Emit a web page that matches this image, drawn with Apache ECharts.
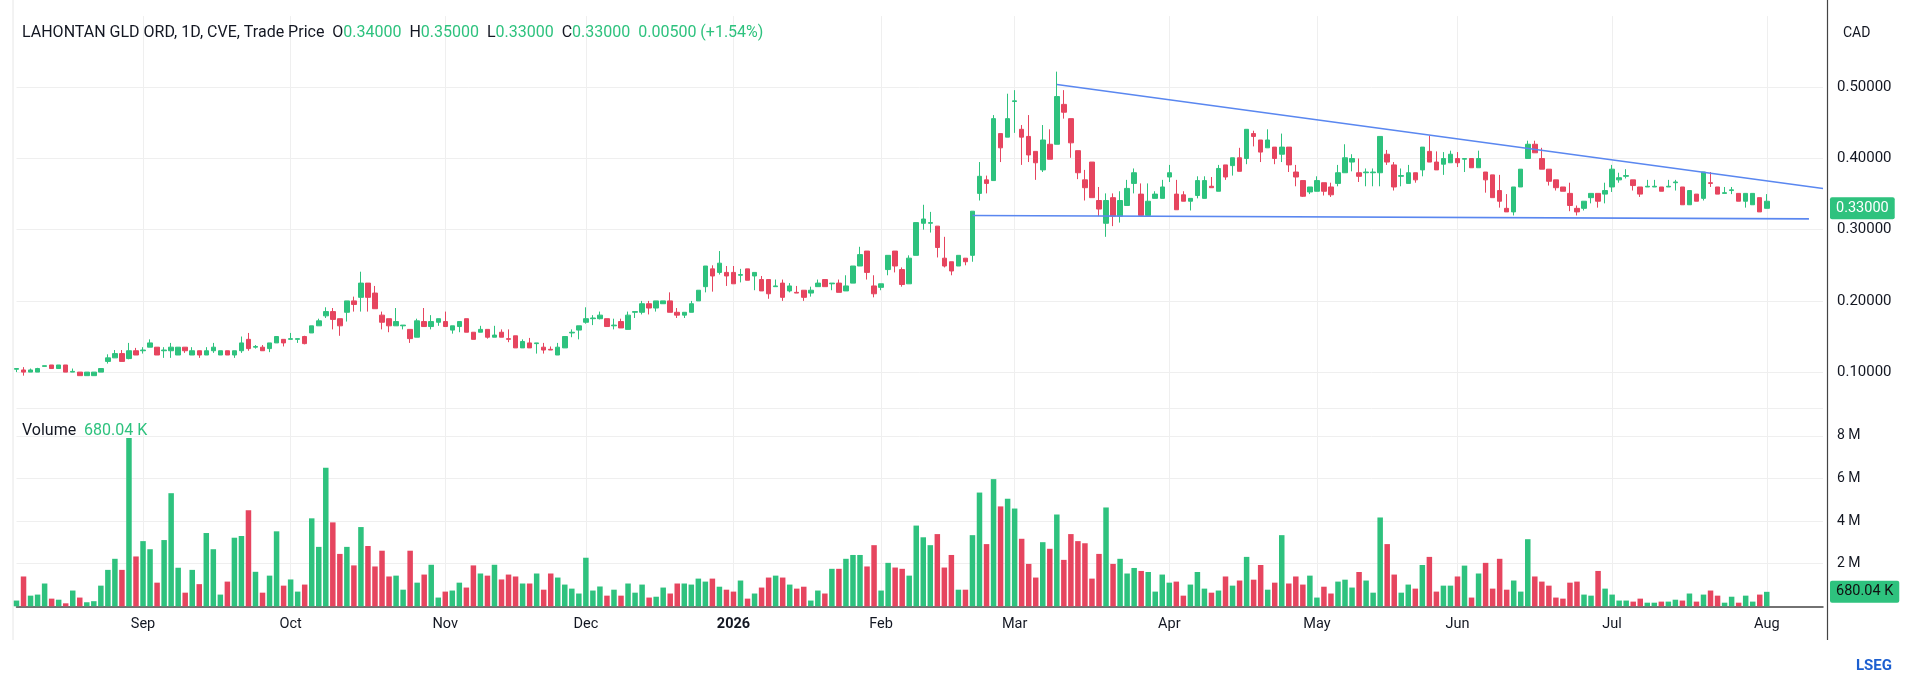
<!DOCTYPE html>
<html>
<head>
<meta charset="utf-8">
<title>LAHONTAN GLD ORD</title>
<script src="https://cdn.jsdelivr.net/npm/echarts@6/dist/echarts.min.js"></script>
<style>
  html, body { margin: 0; padding: 0; background: #fff; }
  #chart { width: 1920px; height: 681px; }
</style>
</head>
<body>
<div id="chart"></div>
<script>
'use strict';
// daily bars, oldest first (CAD)
const opens = [
  .104,.103,.100,.100,.108,.110,.105,.110,.100,.100,
  .095,.095,.100,.115,.120,.126,.119,.130,.130,.135,
  .135,.130,.130,.124,.135,.124,.130,.124,.130,.124,
  .130,.124,.130,.146,.135,.135,.133,.141,.146,.146,
  .146,.150,.155,.165,.179,.185,.175,.184,.200,.205,
  .225,.211,.180,.175,.165,.165,.160,.149,.171,.164,
  .170,.171,.159,.164,.175,.156,.156,.160,.149,.156,
  .147,.151,.134,.141,.140,.135,.132,.124,.134,.155,
  .159,.170,.175,.175,.175,.165,.171,.160,.184,.184,
  .196,.190,.196,.200,.184,.180,.184,.200,.220,.245,
  .240,.240,.240,.236,.245,.235,.230,.230,.220,.225,
  .214,.212,.215,.211,.220,.230,.224,.225,.214,.225,
  .249,.270,.221,.219,.244,.270,.244,.224,.264,.309,
  .309,.305,.260,.255,.249,.260,.264,.351,.370,.369,
  .435,.430,.480,.441,.431,.410,.384,.420,.420,.476,
  .456,.411,.370,.395,.341,.309,.345,.319,.334,.365,
  .350,.320,.344,.344,.374,.350,.349,.340,.348,.344,
  .361,.354,.391,.390,.401,.400,.435,.426,.415,.416,
  .406,.416,.381,.369,.353,.354,.366,.360,.365,.380,
  .395,.380,.380,.380,.380,.406,.391,.375,.365,.380,
  .384,.410,.395,.392,.394,.400,.399,.400,.387,.381,
  .377,.355,.330,.325,.360,.400,.420,.400,.385,.370,
  .360,.351,.330,.330,.345,.351,.350,.360,.370,.375,
  .370,.360,.360,.360,.360,.360,.366,.360,.335,.350,
  .344,.366,.360,.351,.355,.351,.340,.335,.345,.330
];
const highs = [
  .105,.107,.105,.106,.109,.110,.110,.110,.105,.100,
  .100,.100,.105,.125,.131,.131,.141,.134,.135,.146,
  .135,.135,.141,.135,.135,.135,.130,.135,.141,.130,
  .130,.130,.150,.155,.138,.138,.141,.150,.146,.155,
  .147,.151,.165,.175,.191,.190,.175,.200,.206,.241,
  .225,.221,.185,.175,.190,.166,.160,.175,.190,.180,
  .175,.185,.165,.171,.175,.156,.165,.160,.165,.160,
  .160,.151,.146,.148,.141,.141,.136,.141,.150,.160,
  .165,.191,.180,.185,.175,.175,.175,.185,.185,.200,
  .200,.200,.200,.212,.190,.184,.200,.215,.249,.250,
  .270,.249,.249,.245,.245,.240,.235,.230,.230,.230,
  .225,.221,.215,.220,.230,.230,.225,.230,.236,.249,
  .276,.270,.236,.224,.264,.270,.247,.264,.310,.335,
  .325,.305,.290,.255,.264,.260,.326,.395,.376,.461,
  .435,.491,.496,.447,.461,.410,.447,.441,.522,.496,
  .456,.411,.384,.395,.360,.351,.351,.354,.370,.386,
  .365,.365,.354,.370,.391,.370,.354,.344,.375,.375,
  .374,.391,.391,.401,.415,.441,.439,.426,.441,.416,
  .435,.416,.391,.369,.360,.375,.366,.366,.391,.420,
  .406,.400,.386,.386,.431,.412,.395,.386,.391,.380,
  .416,.432,.410,.409,.411,.409,.400,.400,.411,.381,
  .377,.377,.350,.360,.385,.425,.425,.415,.385,.370,
  .360,.366,.334,.340,.351,.351,.366,.391,.380,.385,
  .370,.360,.370,.370,.360,.370,.370,.360,.355,.350,
  .381,.381,.360,.360,.360,.351,.351,.351,.345,.350
];
const lows = [
  .100,.095,.100,.100,.108,.105,.105,.100,.100,.095,
  .095,.095,.100,.112,.120,.115,.118,.124,.126,.135,
  .124,.120,.120,.124,.127,.124,.120,.124,.127,.124,
  .124,.120,.127,.130,.133,.130,.128,.141,.136,.146,
  .141,.139,.155,.165,.176,.160,.151,.171,.185,.185,
  .185,.189,.160,.156,.165,.160,.141,.149,.164,.160,
  .165,.164,.154,.156,.156,.146,.156,.147,.149,.149,
  .142,.134,.134,.134,.126,.126,.131,.124,.134,.149,
  .146,.168,.166,.174,.164,.160,.162,.160,.176,.181,
  .181,.185,.196,.184,.176,.176,.184,.200,.212,.213,
  .237,.221,.224,.226,.229,.215,.214,.203,.220,.200,
  .212,.211,.200,.206,.220,.220,.215,.212,.214,.225,
  .249,.230,.205,.215,.236,.240,.220,.224,.264,.300,
  .296,.261,.247,.236,.249,.250,.255,.341,.351,.369,
  .395,.430,.436,.391,.395,.370,.381,.399,.420,.456,
  .401,.371,.341,.345,.319,.290,.305,.310,.334,.351,
  .320,.320,.344,.344,.367,.328,.340,.327,.344,.344,
  .359,.354,.370,.376,.382,.392,.417,.395,.415,.392,
  .395,.381,.361,.346,.350,.354,.348,.346,.361,.380,
  .382,.367,.361,.361,.361,.391,.355,.361,.365,.366,
  .375,.395,.384,.377,.394,.388,.381,.387,.387,.352,
  .345,.331,.325,.320,.360,.400,.408,.385,.362,.355,
  .354,.326,.320,.327,.337,.331,.337,.353,.366,.372,
  .355,.346,.360,.360,.354,.360,.355,.335,.335,.340,
  .341,.360,.350,.351,.350,.340,.331,.335,.325,.330
];
const closes = [
  .105,.100,.103,.105,.109,.105,.110,.100,.101,.095,
  .100,.100,.105,.120,.126,.115,.130,.124,.131,.141,
  .124,.131,.135,.135,.130,.130,.124,.130,.135,.130,
  .124,.130,.141,.133,.136,.130,.141,.150,.141,.147,
  .147,.140,.165,.172,.185,.174,.165,.200,.195,.225,
  .205,.189,.170,.165,.171,.166,.147,.172,.164,.171,
  .175,.164,.165,.171,.156,.146,.160,.149,.152,.149,
  .146,.134,.143,.134,.141,.131,.131,.135,.150,.156,
  .165,.175,.176,.180,.164,.166,.162,.180,.185,.196,
  .190,.200,.200,.184,.180,.184,.196,.215,.249,.235,
  .253,.235,.224,.237,.229,.240,.214,.210,.221,.205,
  .221,.211,.205,.215,.225,.220,.225,.212,.221,.249,
  .265,.240,.210,.224,.264,.249,.223,.260,.310,.315,
  .310,.275,.249,.242,.264,.255,.326,.375,.365,.456,
  .415,.456,.481,.430,.405,.394,.426,.399,.487,.465,
  .422,.380,.359,.345,.329,.341,.319,.341,.358,.380,
  .320,.340,.350,.360,.380,.328,.340,.344,.369,.369,
  .359,.386,.374,.401,.382,.441,.431,.409,.426,.400,
  .416,.391,.374,.347,.360,.369,.354,.349,.380,.401,
  .400,.375,.381,.381,.431,.395,.360,.376,.380,.370,
  .416,.395,.384,.400,.406,.394,.400,.387,.400,.370,
  .345,.340,.325,.360,.385,.420,.408,.385,.368,.359,
  .354,.334,.325,.340,.351,.340,.355,.385,.373,.376,
  .362,.350,.361,.361,.354,.361,.367,.335,.355,.340,
  .381,.365,.350,.352,.356,.340,.351,.351,.325,.340
];
// volume, millions of shares
const volumes = [
  0.27,1.40,0.50,0.55,1.07,0.36,0.31,0.14,0.74,0.41,
  0.19,0.24,0.97,1.71,2.23,1.71,7.90,2.34,3.06,2.68,
  1.11,3.11,5.31,1.81,0.64,1.71,1.04,3.44,2.68,0.55,
  1.16,3.22,3.30,4.51,1.62,0.64,1.44,3.52,0.97,1.26,
  0.69,1.02,4.13,2.79,6.50,3.94,2.46,2.79,1.92,3.72,
  2.83,1.87,2.61,1.40,1.44,0.78,2.61,1.11,1.49,1.95,
  0.41,0.69,0.74,1.11,0.88,1.92,1.54,1.44,1.95,1.26,
  1.49,1.40,1.07,1.07,1.54,0.78,1.54,1.35,1.02,0.83,
  0.60,2.28,0.74,0.93,0.50,0.78,0.50,1.07,0.64,1.02,
  0.41,0.45,0.88,0.60,1.07,1.07,1.02,1.30,1.16,1.30,
  0.92,0.78,0.69,1.21,0.36,0.60,0.88,1.35,1.44,1.35,
  1.02,0.83,0.92,0.27,0.74,0.60,1.76,1.76,2.23,2.41,
  2.41,1.87,2.87,0.74,2.04,1.82,1.76,1.44,3.79,3.24,
  2.87,3.39,1.82,2.41,0.78,0.78,3.34,5.34,2.92,5.97,
  4.69,5.05,4.59,3.17,1.99,1.35,3.01,2.70,4.31,2.18,
  3.39,3.06,2.96,1.30,2.46,4.64,1.99,2.23,1.54,1.80,
  1.66,1.61,0.69,1.49,1.11,1.16,0.50,1.02,1.61,0.83,
  0.64,0.74,1.40,0.97,1.21,2.32,1.25,1.94,0.78,1.11,
  3.34,1.07,1.40,1.02,1.44,0.41,0.92,0.60,1.16,1.25,
  0.88,1.61,1.21,0.64,4.17,2.92,1.49,0.64,1.02,0.83,
  1.94,2.32,0.69,0.97,0.97,1.40,1.91,0.41,1.54,2.04,
  0.83,2.23,0.78,1.21,0.69,3.15,1.40,1.16,0.97,0.41,
  0.36,1.11,1.16,0.55,0.50,1.66,0.83,0.55,0.27,0.27,
  0.22,0.36,0.17,0.17,0.22,0.22,0.31,0.27,0.60,0.22,
  0.55,0.74,0.50,0.17,0.45,0.17,0.50,0.22,0.55,0.68
];
// bar index of the first session of each month
const monthTicks = [
  [18, 'Sep'], [39, 'Oct'], [61, 'Nov'], [81, 'Dec'], [102, '2026'], [123, 'Feb'],
  [142, 'Mar'], [164, 'Apr'], [185, 'May'], [205, 'Jun'], [227, 'Jul'], [249, 'Aug']
];
const emptySlots = 8; // blank space right of the last bar
// [startBar, startPrice, endBar, endPrice]
const trendLines = [
  [136, 0.320, 255, 0.3152],
  [148, 0.504, 257, 0.3578]
];
// header quote: open, high, low, close, change, change %
const quote = [0.34, 0.35, 0.33, 0.33, 0.005, 1.54];
const lastVolume = 0.68;
const lastVolumeText = '680.04 K';

const green = '#2EC27E';
const red = '#E6455F';
const ink = '#131722';
const gridColor = '#efefef';
const font = 'Roboto, "Noto Sans", sans-serif';

const cats = [];
for (let i = 0; i < opens.length + emptySlots; i++) cats.push(String(i));
const tickMap = {};
monthTicks.forEach(t => { tickMap[t[0]] = t[1]; });
const isTick = (i) => tickMap[i] !== undefined;

const ohlc = opens.map((o, i) => [o, closes[i], lows[i], highs[i]]);
const f5 = v => v.toFixed(5);

const header = '{t|LAHONTAN GLD ORD, 1D, CVE, Trade Price}  ' +
  '{k|O}{v|' + f5(quote[0]) + '}  {k|H}{v|' + f5(quote[1]) + '}  ' +
  '{k|L}{v|' + f5(quote[2]) + '}  {k|C}{v|' + f5(quote[3]) + '}  ' +
  '{v|' + f5(quote[4]) + ' (+' + quote[5].toFixed(2) + '%)}';

const txt = (color) => ({ fontSize: 16, color: color, fontFamily: font, fontWeight: 'normal' });
const badge = (text, fg) => ({
  show: true, position: 'end', distance: 7, formatter: text,
  backgroundColor: green, color: fg, fontSize: 14.5, fontFamily: font,
  padding: [4, 6, 3, 6], borderRadius: 2
});

const instance = echarts.init(document.getElementById('chart'));
instance.setOption({
  animation: false,
  backgroundColor: '#fff',
  textStyle: { fontFamily: font },
  title: [{
    text: header,
    left: 17, top: 20,
    textStyle: { fontSize: 16, fontWeight: 'normal', color: ink, fontFamily: font,
      rich: { t: txt(ink), k: txt(ink), v: txt(green) } }
  }, {
    text: '{t|Volume}  {v|' + lastVolumeText + '}',
    left: 17, top: 418,
    textStyle: { fontSize: 16, fontWeight: 'normal',
      rich: { t: txt(ink), v: txt(green) } }
  }, {
    text: 'CAD',
    left: 1838, top: 21,
    textStyle: { fontSize: 14, fontWeight: 'normal', color: ink, fontFamily: font }
  }],
  grid: [
    { left: 16.5, right: 97, top: 16.1, bottom: 237.7 },
    { left: 16.5, right: 97, top: 408, bottom: 74.7 }
  ],
  xAxis: [{
    type: 'category', gridIndex: 0, data: cats, boundaryGap: false,
    axisLine: { show: false }, axisTick: { show: false }, axisLabel: { show: false },
    splitLine: { show: true, interval: isTick, lineStyle: { color: gridColor } }
  }, {
    type: 'category', gridIndex: 1, data: cats, boundaryGap: false,
    axisLine: { show: true, lineStyle: { color: '#444', width: 1.5 } },
    axisTick: { show: false },
    splitLine: { show: true, interval: isTick, lineStyle: { color: gridColor } },
    axisLabel: {
      interval: isTick, margin: 11, color: ink, fontSize: 14.5, fontFamily: font,
      formatter: (v, i) => tickMap[i] === '2026' ? '{b|2026}' : (tickMap[i] || ''),
      rich: { b: { fontWeight: 'bold', fontSize: 14.5, color: ink, fontFamily: font } }
    }
  }],
  yAxis: [{
    type: 'value', gridIndex: 0, position: 'right', offset: 4,
    min: 0, max: 0.6, interval: 0.1,
    axisLine: { show: false }, axisTick: { show: false },
    axisLabel: {
      formatter: f5, color: ink, fontSize: 15, margin: 10, fontFamily: font,
      showMinLabel: false, showMaxLabel: false
    },
    splitLine: { lineStyle: { color: gridColor }, showMinLine: false, showMaxLine: false }
  }, {
    type: 'value', gridIndex: 1, position: 'right', offset: 4,
    min: 0, max: 9.31, interval: 2,
    axisLine: { show: false }, axisTick: { show: false },
    axisLabel: {
      formatter: v => v + ' M', color: ink, fontSize: 14, margin: 10, fontFamily: font,
      showMinLabel: false, showMaxLabel: false
    },
    splitLine: { lineStyle: { color: gridColor }, showMinLine: false, showMaxLine: true }
  }],
  series: [{
    name: 'Price',
    type: 'candlestick',
    xAxisIndex: 0, yAxisIndex: 0,
    data: ohlc,
    barWidth: 5,
    clip: false,
    itemStyle: {
      color: green, color0: red,
      borderColor: green, borderColor0: red, borderWidth: 1
    },
    markLine: {
      silent: true, symbol: ['none', 'none'], animation: false,
      lineStyle: { color: '#5A87F0', width: 1.6, type: 'solid' },
      label: { show: false },
      data: trendLines.map(t => [{ coord: [t[0], t[1]] }, { coord: [t[2], t[3]] }]).concat([{
        yAxis: quote[3],
        lineStyle: { color: 'rgba(0,0,0,0)', width: 0 },
        label: badge(f5(quote[3]), '#fff')
      }])
    }
  }, {
    name: 'Volume',
    type: 'bar',
    xAxisIndex: 1, yAxisIndex: 1,
    data: volumes,
    barWidth: 5.5,
    itemStyle: {
      color: p => closes[p.dataIndex] >= opens[p.dataIndex] ? green : red
    },
    markLine: {
      silent: true, symbol: ['none', 'none'], animation: false,
      data: [{
        yAxis: lastVolume,
        lineStyle: { color: 'rgba(0,0,0,0)', width: 0 },
        label: badge(lastVolumeText, '#111')
      }]
    }
  }],
  graphic: [{
    type: 'line', silent: true,
    shape: { x1: 13, y1: 0, x2: 13, y2: 640 },
    style: { stroke: '#e6e6e6', lineWidth: 1 }
  }, {
    type: 'line', silent: true,
    shape: { x1: 1827.5, y1: 0, x2: 1827.5, y2: 640 },
    style: { stroke: '#444', lineWidth: 1.2 }
  }, {
    type: 'text', left: 1856, top: 659,
    style: { text: 'LSEG', fill: '#1C5FD0', font: 'bold 15px ' + font }
  }]
});
window.onresize = () => {
  instance.resize();
};
</script>
</body>
</html>
